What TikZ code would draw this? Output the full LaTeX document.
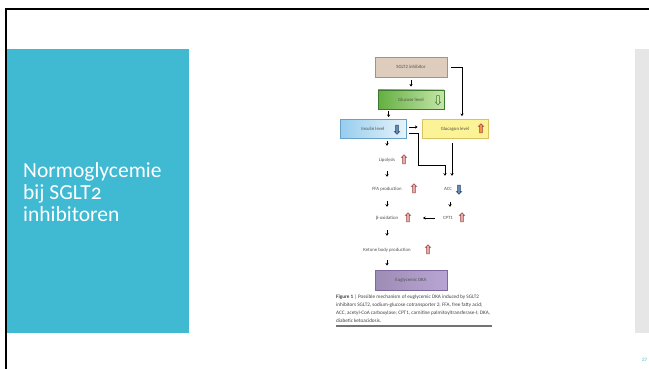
\documentclass[tikz,border=0pt]{standalone}
\usepackage{fontspec}
\setmainfont{Carlito}
\newfontfamily\titlefont{Carlito}[Numbers=OldStyle]
\usetikzlibrary{arrows.meta,shapes.arrows}

\definecolor{panelblue}{RGB}{64,185,210}
\definecolor{panelgray}{RGB}{230,230,230}
\definecolor{sgltfill}{RGB}{222,205,188}
\definecolor{sgltdraw}{RGB}{165,145,130}
\definecolor{glucdark}{RGB}{100,175,65}
\definecolor{gluclight}{RGB}{198,230,168}
\definecolor{glucdraw}{RGB}{60,120,45}
\definecolor{insdark}{RGB}{150,205,238}
\definecolor{inslight}{RGB}{230,243,250}
\definecolor{insdraw}{RGB}{105,160,200}
\definecolor{glcfill}{RGB}{252,242,150}
\definecolor{glcdraw}{RGB}{215,195,95}
\definecolor{dkafill}{RGB}{185,165,212}
\definecolor{dkadraw}{RGB}{125,105,160}
\definecolor{upfill}{RGB}{232,170,165}
\definecolor{updraw}{RGB}{150,70,70}
\definecolor{dnfill}{RGB}{95,140,185}
\definecolor{dndraw}{RGB}{45,65,95}
\definecolor{labeltext}{RGB}{80,80,80}

\tikzset{
	box/.style={draw, line width=0.8pt, minimum width=66pt, minimum height=19pt, inner sep=0pt, font=\fontsize{4.8}{5.5}\selectfont, text=labeltext},
	factor/.style={inner sep=0pt, minimum height=10pt, font=\fontsize{4.8}{5.5}\selectfont, text=labeltext},
	uparrow/.style={single arrow, draw=updraw, fill=upfill, line width=0.5pt, rotate=90, minimum height=9pt, inner sep=1.1pt, single arrow head extend=1.3pt},
	downarrow/.style={single arrow, draw=dndraw, fill=dnfill, line width=0.5pt, rotate=-90, minimum height=9pt, inner sep=1.1pt, single arrow head extend=1.3pt},
	flow/.style={line width=0.9pt, -{Stealth[length=2.6pt,width=3.2pt]}},
	elbow/.style={line width=0.8pt, -{Stealth[length=2.6pt,width=3.2pt]}}
}

\begin{document}
\begin{tikzpicture}[x=1pt, y=-1pt]
	\useasboundingbox (0,0) rectangle (649,369);
	\fill[panelblue] (6.5,49) rectangle (189,333);
	\fill[panelgray] (635,49) rectangle (649,333);
	\draw[line width=2pt] (5.5,369) -- (5.5,9.5) -- (649,9.5);
	
	\node[anchor=north west, inner sep=0pt, align=left, text=white, font=\titlefont\fontsize{21.5}{22}\selectfont] (title) at (23,162) {Normoglycemie\\bij SGLT2\\inhibitoren};
	
	\node[box, fill=sgltfill, draw=sgltdraw, minimum width=72pt, minimum height=20pt] (sglt) at (411,67) {SGLT2 inhibitor};
	\node[box, left color=glucdark, right color=gluclight, draw=glucdraw] (glucose) at (411,99.5) {Glucose level};
	\node[box, left color=insdark, right color=inslight, draw=insdraw] (insulin) at (373,129) {Insulin level};
	\node[box, fill=glcfill, draw=glcdraw] (glucagon) at (455,129) {Glucagon level};
	\node[downarrow, fill=gluclight, draw=glucdraw] (glucose-dn) at (438,99.5) {};
	\node[downarrow] (insulin-dn) at (397,129) {};
	\node[uparrow, fill=orange!60!upfill] (glucagon-up) at (481,129) {};
	
	\node[factor] (lipolysis) at (387,160) {Lipolysis};
	\node[uparrow] (lipolysis-up) at (404,160) {};
	\node[factor] (ffa) at (387,189) {FFA production};
	\node[uparrow] (ffa-up) at (414,189) {};
	\node[factor] (acc) at (448,189) {ACC};
	\node[downarrow] (acc-dn) at (459,189) {};
	\node[factor] (betaox) at (387,218) {β-oxidation};
	\node[uparrow] (betaox-up) at (408,218) {};
	\node[factor] (cpt) at (448,218) {CPT1};
	\node[uparrow] (cpt-up) at (462,218) {};
	\node[factor] (ketone) at (387,250) {Ketone body production};
	\node[uparrow] (ketone-up) at (428,250) {};
	\node[box, left color=dkafill!85!black, right color=dkafill, draw=dkadraw, minimum width=72pt, minimum height=20pt] (dka) at (411,280) {Euglycemic DKA};
	
	\draw[flow, shorten <=3pt, shorten >=3pt] (sglt) -- (glucose);
	\draw[elbow, shorten <=4pt, shorten >=3pt] (sglt.east) -| ([xshift=7pt]glucagon.north);
	\draw[flow, shorten <=2pt, shorten >=2pt] ([xshift=11pt]glucose.south west) -- ([xshift=11pt]glucose.south west |- insulin.north);
	\draw[flow, shorten <=3pt, shorten >=4pt] ([yshift=2pt]insulin.east) -- ([yshift=2pt]glucagon.west);
	\draw[elbow, shorten >=8pt] ([xshift=3pt,yshift=-4pt]insulin.east) -- ++(9,0) -- ++(0,32) -| ([xshift=-3pt]acc.north);
	\draw[elbow, shorten <=4pt, shorten >=8pt] ([xshift=-3pt]glucagon.south) -- ([xshift=-3pt]glucagon.south |- acc.north);
	
	\draw[flow, shorten <=2pt, shorten >=9pt] (insulin.south -| lipolysis) -- (lipolysis.north);
	\draw[flow, shorten <=6pt, shorten >=7pt] (lipolysis.south) -- (ffa.north);
	\draw[flow, shorten <=7pt, shorten >=6pt] (ffa.south) -- (betaox.north);
	\draw[flow, shorten <=7pt, shorten >=9pt] (betaox.south) -- (ketone.north);
	\draw[flow, shorten <=5pt, shorten >=4pt] (ketone.south) -- (ketone |- dka.north);
	\draw[flow, shorten <=8pt, shorten >=6pt] ([xshift=2pt]acc.south) -- ([xshift=2pt]cpt.north);
	\draw[flow, shorten <=8pt, shorten >=15pt] (cpt.west) -- (betaox-up.center);
	
	\node[anchor=north west, inner sep=0pt, align=left, text=black!75, font=\fontsize{5.2}{8}\selectfont] (caption) at (336,295) {\textbf{Figure 1} | Possible mechanism of euglycemic DKA induced by SGLT2\\inhibitors SGLT2, sodium-glucose cotransporter 2; FFA, free fatty acid;\\ACC, acetyl-CoA carboxylase; CPT1, carnitine palmitoyltransferase-I; DKA,\\diabetic ketoacidosis.};
	\draw[black!55, line width=1.2pt] (336,326) -- (492,326);
	
	\node[anchor=west, inner sep=0pt, text=panelblue, font=\fontsize{5}{6}\selectfont] (pagenum) at (642,360) {27};
\end{tikzpicture}
\end{document}
